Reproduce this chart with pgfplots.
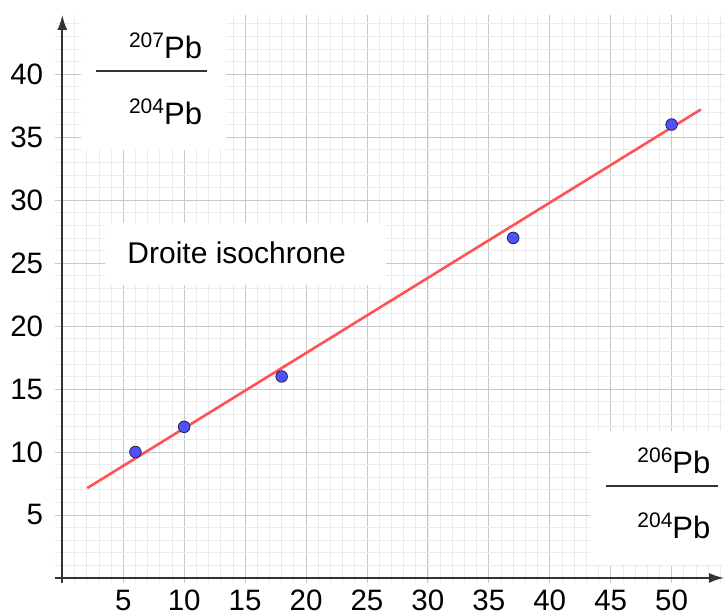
\documentclass[border=0pt]{standalone}
\usepackage{fontspec}
\setmainfont{Liberation Sans}
\usepackage{pgfplots}
\pgfplotsset{compat=1.18}
\usetikzlibrary{arrows.meta}

\definecolor{gridmaj}{HTML}{C8C8C8}
\definecolor{gridmin}{HTML}{EBEBEB}
\definecolor{axiscol}{HTML}{333333}
\definecolor{ptblue}{HTML}{5050FF}
\definecolor{ptedge}{HTML}{22224A}
\definecolor{linered}{HTML}{FF5252}

\newcommand{\pb}[1]{\raisebox{11pt}{\fontsize{21}{21}\selectfont #1}\fontsize{31}{31}\selectfont Pb}

\begin{document}
\begin{tikzpicture}
\begin{axis}[
  scale only axis, width=669pt, height=568pt,
  xmin=-0.6, xmax=54.3, ymin=-0.4, ymax=44.7,
  axis lines=middle,
  x axis line style={draw=axiscol, line width=1.8pt, -{Latex[length=15pt,width=10pt]}},
  y axis line style={draw=axiscol, line width=1.8pt, -{Latex[length=15pt,width=10pt]}},
  xtick={5,10,...,50}, ytick={5,10,...,40},
  minor xtick={0,1,...,54}, minor ytick={0,1,...,44},
  grid=both,
  major grid style={draw=gridmaj, line width=0.9pt},
  minor grid style={draw=gridmin, line width=0.7pt},
  major tick length=0pt, minor tick length=0pt,
  tick label style={font=\fontsize{29.5}{30}\selectfont},
  /pgf/number format/assume math mode=true,
  xticklabel style={anchor=north, inner sep=0pt, yshift=-12pt},
  yticklabel style={anchor=east, inner sep=0pt, xshift=-19pt},
  clip=false,
]

% white boxes behind the labels
\fill[white] (axis cs:1.5,34) rectangle (axis cs:13.4,44.7);
\fill[white] (axis cs:3.5,23.3) rectangle (axis cs:26.6,28.2);
\fill[white] (axis cs:43.3,1.0) rectangle (axis cs:54.3,11.7);

% isochron
\addplot[draw=linered, line width=2.6pt, no marks] coordinates {(2.05,7.14) (52.4,37.2)};

% samples
\addplot[only marks, mark=*, mark size=5.8pt,
  mark options={fill=ptblue, draw=ptedge, line width=0.8pt}] coordinates {
(6,10) (10,12) (18,16) (37,27) (50,36)
};

% y label
\node[anchor=base east, inner sep=0pt] at (axis cs:11.48,41.27) {\pb{207}};
\draw[axiscol, line width=2.3pt] (axis cs:2.79,40.24) -- (axis cs:11.89,40.24);
\node[anchor=base east, inner sep=0pt] at (axis cs:11.48,36.03) {\pb{204}};

% x label
\node[anchor=base east, inner sep=0pt] at (axis cs:53.2,8.33) {\pb{206}};
\draw[axiscol, line width=2.3pt] (axis cs:44.59,7.30) -- (axis cs:53.77,7.30);
\node[anchor=base east, inner sep=0pt] at (axis cs:53.2,3.17) {\pb{204}};

\node[anchor=base west, inner sep=0pt, font=\fontsize{30}{30}\selectfont] at (axis cs:5.33,25.0) {Droite isochrone};
\end{axis}
\pgfresetboundingbox
\path (current axis.south west) ++(-55pt,-31pt) coordinate (bl);
\path (current axis.north east) ++(0pt,15pt) coordinate (tr);
\path (bl) rectangle (tr);
\end{tikzpicture}
\end{document}
